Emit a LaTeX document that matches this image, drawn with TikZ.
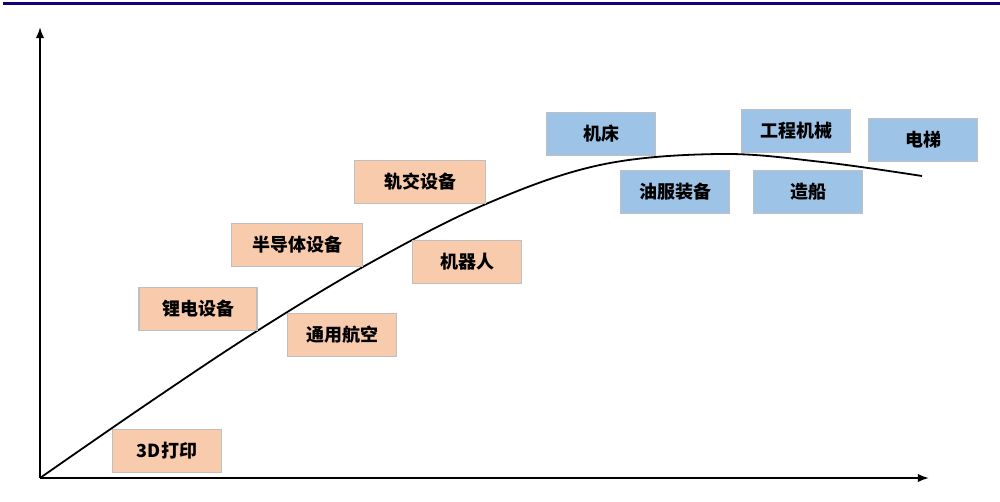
\documentclass[tikz,border=0pt]{standalone}
\usepackage{fontspec}
\setmainfont{Noto Sans CJK SC}
\usepackage{tikz}
\usetikzlibrary{arrows.meta}
\usepackage{xcolor}
\definecolor{peach}{HTML}{F8CBAD}
\definecolor{skyblue}{HTML}{9DC3E6}
\definecolor{boxline}{HTML}{BFBFBF}
\definecolor{navy}{HTML}{16007A}

\begin{document}
\begin{tikzpicture}[x=1pt,y=-1pt,>=Latex,
  item/.style={draw=boxline, line width=1.3pt, minimum width=109pt, minimum height=43pt,
    inner sep=0pt, font=\fontsize{18}{20}\selectfont\bfseries},
  rising/.style={item, fill=peach},
  mature/.style={item, fill=skyblue}]
\useasboundingbox (0,0) rectangle (1000,502);
\draw[navy, line width=3pt] (3,4) -- (1000,4);
% axes
\coordinate (o) at (40,478);
\coordinate (ytop) at (40,27);
\coordinate (xend) at (929,478);
\draw[->, line width=1.8pt] (o) -- (ytop);
\draw[->, line width=1.8pt] (o) -- (xend);
% life cycle curve
\draw[line width=1.8pt] plot[smooth, tension=0.6] coordinates {(40,478) (150,402) (257,331) (370,263) (486,204) (600,165) (720,154) (822,162) (922,176)};
% growing industries
\node[rising] (print) at (167,451) {3D打印};
\node[rising, minimum width=118pt] (battery) at (198,309) {锂电设备};
\node[rising, minimum width=131pt] (semi) at (297,245) {半导体设备};
\node[rising] (aviation) at (342,335) {通用航空};
\node[rising, minimum width=131pt] (rail) at (420,182) {轨交设备};
\node[rising] (robot) at (467,262) {机器人};
% mature industries
\node[mature] (lathe) at (601,134) {机床};
\node[mature] (oil) at (675,192) {油服装备};
\node[mature] (machinery) at (796,131) {工程机械};
\node[mature] (elevator) at (923,140) {电梯};
\node[mature] (ship) at (808,192) {造船};
\end{tikzpicture}
\end{document}
